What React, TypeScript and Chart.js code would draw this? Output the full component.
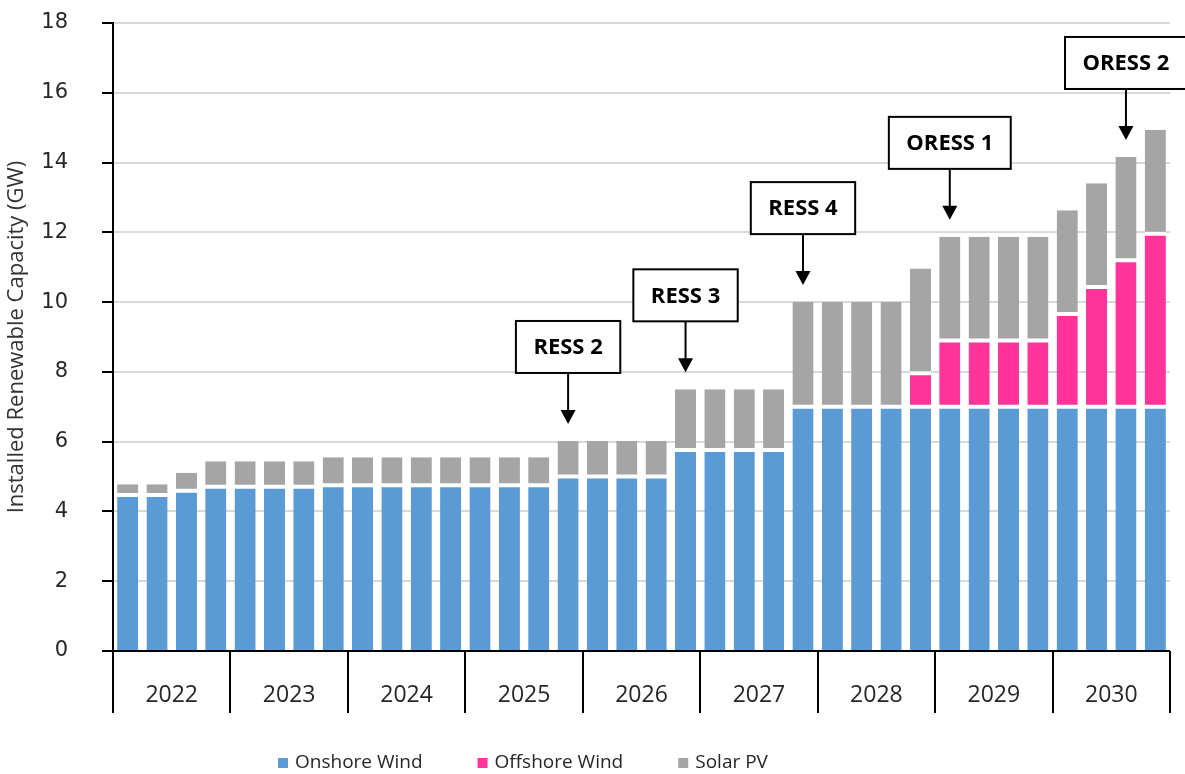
import React, { useEffect, useRef } from "react";
import { Chart, registerables } from "chart.js";

Chart.register(...registerables);

// ---------- data ----------
const years = ["2022", "2023", "2024", "2025", "2026", "2027", "2028", "2029", "2030"];
const quarters = ["Q1", "Q2", "Q3", "Q4"];
const categories = years.flatMap((y) => quarters.map((q) => `${y} ${q}`));

const onshoreWind = [
  4.47, 4.47, 4.59, 4.71,
  4.71, 4.71, 4.71, 4.75,
  4.75, 4.75, 4.75, 4.75,
  4.75, 4.75, 4.75, 5.0,
  5.0, 5.0, 5.0, 5.76,
  5.76, 5.76, 5.76, 7.0,
  7.0, 7.0, 7.0, 7.0,
  7.0, 7.0, 7.0, 7.0,
  7.0, 7.0, 7.0, 7.0,
];
const offshoreWind = [
  0, 0, 0, 0,
  0, 0, 0, 0,
  0, 0, 0, 0,
  0, 0, 0, 0,
  0, 0, 0, 0,
  0, 0, 0, 0,
  0, 0, 0, 0.96,
  1.9, 1.9, 1.9, 1.9,
  2.66, 3.43, 4.2, 4.96,
];
const solarPV = [
  0.31, 0.31, 0.52, 0.73,
  0.73, 0.73, 0.73, 0.8,
  0.8, 0.8, 0.8, 0.8,
  0.8, 0.8, 0.8, 1.02,
  1.02, 1.02, 1.02, 1.74,
  1.74, 1.74, 1.74, 3.0,
  3.0, 3.0, 3.0, 3.0,
  2.97, 2.97, 2.97, 2.97,
  2.97, 2.98, 2.96, 2.98,
];
const seriesNames = ["Onshore Wind", "Offshore Wind", "Solar PV"];
const seriesColors = ["#5b9bd5", "#ff3399", "#a5a5a5"];

const annotationLabels = ["RESS 2", "RESS 3", "RESS 4", "ORESS 1", "ORESS 2"];
const annotationBars = [15, 19, 23, 28, 34];

const yTicks = [0, 2, 4, 6, 8, 10, 12, 14, 16, 18];

// ---------- styling ----------
const SANS = '"Open Sans", "Noto Sans", sans-serif';
const TEXT = "#262626";

const overlayPlugin = {
  id: "overlay",
  afterDatasetsDraw(chart: any) {
    const { ctx, chartArea, scales } = chart;
    const x = scales.x;
    const y = scales.y;
    const catW = (chartArea.right - chartArea.left) / categories.length;
    const y0 = y.getPixelForValue(0);

    ctx.save();
    // baseline
    ctx.strokeStyle = "#000";
    ctx.lineWidth = 2;
    ctx.beginPath();
    ctx.moveTo(chartArea.left, y0);
    ctx.lineTo(chartArea.right, y0);
    ctx.stroke();

    // year dividers and labels
    const divBottom = y0 + 62;
    for (let k = 0; k <= years.length; k++) {
      const xx = Math.round(chartArea.left + k * 4 * catW);
      ctx.beginPath();
      ctx.moveTo(xx, y0);
      ctx.lineTo(xx, divBottom);
      ctx.stroke();
    }
    ctx.fillStyle = TEXT;
    ctx.font = `23px ${SANS}`;
    ctx.textAlign = "center";
    ctx.textBaseline = "middle";
    years.forEach((yr, k) => {
      const cx = chartArea.left + (k * 4 + 2) * catW;
      ctx.fillText(yr, cx, y0 + 44);
    });

    // annotations
    annotationLabels.forEach((label, i) => {
      const idx = annotationBars[i];
      const total = onshoreWind[idx] + offshoreWind[idx] + solarPV[idx];
      const ax = x.getPixelForValue(idx);
      const tipY = y.getPixelForValue(total) - 17;
      const boxBottom = tipY - 51;
      const boxH = 52;
      ctx.font = `bold 22px ${SANS}`;
      const tw = ctx.measureText(label).width;
      const boxW = tw + 35;
      ctx.fillStyle = "#fff";
      ctx.fillRect(ax - boxW / 2, boxBottom - boxH, boxW, boxH);
      ctx.strokeStyle = "#000";
      ctx.lineWidth = 2;
      ctx.strokeRect(ax - boxW / 2, boxBottom - boxH, boxW, boxH);
      ctx.fillStyle = "#000";
      ctx.textAlign = "center";
      ctx.textBaseline = "middle";
      ctx.fillText(label, ax, boxBottom - boxH / 2 + 1);
      // arrow
      ctx.beginPath();
      ctx.moveTo(ax, boxBottom);
      ctx.lineTo(ax, tipY - 12);
      ctx.stroke();
      ctx.beginPath();
      ctx.moveTo(ax - 7.5, tipY - 14);
      ctx.lineTo(ax + 7.5, tipY - 14);
      ctx.lineTo(ax, tipY);
      ctx.closePath();
      ctx.fill();
    });

    // legend
    ctx.font = `19px ${SANS}`;
    ctx.textAlign = "left";
    ctx.textBaseline = "middle";
    let lx = 278;
    const ly = 763;
    seriesNames.forEach((name, i) => {
      ctx.fillStyle = seriesColors[i];
      ctx.fillRect(lx, ly - 5, 10, 10);
      ctx.fillStyle = TEXT;
      ctx.fillText(name, lx + 17, ly);
      lx += 17 + ctx.measureText(name).width + 55;
    });
    ctx.restore();
  },
};

export default function App() {
  const canvasRef = useRef<HTMLCanvasElement | null>(null);

  useEffect(() => {
    if (!canvasRef.current) return;
    const datasets = [
      {
        label: seriesNames[0],
        data: onshoreWind,
        backgroundColor: seriesColors[0],
        borderColor: "#ffffff",
        borderWidth: { top: 2, left: 0, right: 0, bottom: 0 },
        borderSkipped: false,
      },
      {
        label: seriesNames[1],
        data: offshoreWind,
        backgroundColor: seriesColors[1],
        borderColor: "#ffffff",
        borderWidth: { top: 2, left: 0, right: 0, bottom: 2 },
        borderSkipped: false,
      },
      {
        label: seriesNames[2],
        data: solarPV,
        backgroundColor: seriesColors[2],
        borderColor: "#ffffff",
        borderWidth: { top: 0, left: 0, right: 0, bottom: 2 },
        borderSkipped: false,
      },
    ];
    const chart = new Chart(canvasRef.current, {
      type: "bar",
      data: { labels: categories, datasets: datasets as any },
      options: {
        animation: false,
        responsive: true,
        maintainAspectRatio: false,
        datasets: { bar: { barPercentage: 0.72, categoryPercentage: 1 } },
        layout: { autoPadding: false, padding: { top: 23, right: 15, bottom: 123, left: 0 } },
        plugins: {
          legend: { display: false },
          tooltip: { enabled: false },
        },
        scales: {
          x: {
            stacked: true,
            display: false,
          },
          y: {
            stacked: true,
            min: 0,
            max: 18,
            afterBuildTicks: (scale: any) => {
              scale.ticks = yTicks.map((v) => ({ value: v }));
            },
            afterFit: (scale: any) => {
              scale.width = 113;
              scale.paddingTop = 0;
              scale.paddingBottom = 0;
            },
            grid: {
              color: "#d9d9d9",
              lineWidth: 2,
              tickColor: "#000",
              tickLength: 11,
              tickWidth: 2,
            },
            border: { color: "#000", width: 2 },
            ticks: {
              color: TEXT,
              padding: 34,
              font: { family: '"DejaVu Sans", Verdana, sans-serif', size: 21 },
            },
            title: {
              display: true,
              text: "Installed Renewable Capacity (GW)",
              color: "#333",
              font: { family: SANS, size: 22 },
              padding: { top: 4, bottom: 0 },
            },
          },
        },
      },
      plugins: [overlayPlugin],
    });
    return () => chart.destroy();
  }, []);

  return (
    <div style={{ position: "fixed", left: 0, top: 0, width: 1185, height: 774, background: "#fff" }}>
      <canvas ref={canvasRef} />
    </div>
  );
}
